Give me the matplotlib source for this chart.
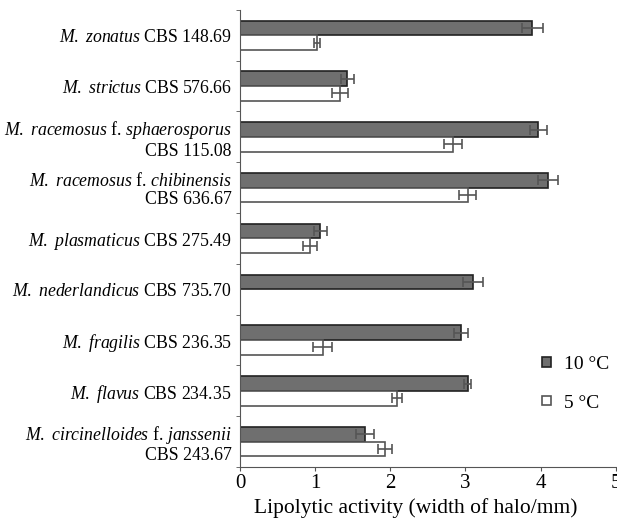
import numpy as np
import matplotlib.pyplot as plt

plt.rcParams["font.family"] = "Liberation Serif"
plt.rcParams["mathtext.fontset"] = "custom"
plt.rcParams["mathtext.rm"] = "Liberation Serif"
plt.rcParams["mathtext.it"] = "Liberation Serif:italic"

# Cepas (de arriba hacia abajo)
cepas = [
    r"$\mathit{M.\ zonatus}$ CBS 148.69",
    r"$\mathit{M.\ strictus}$ CBS 576.66",
    "$\\mathit{M.\\ racemosus}$ f. $\\mathit{sphaerosporus}$\nCBS 115.08",
    "$\\mathit{M.\\ racemosus}$ f. $\\mathit{chibinensis}$\nCBS 636.67",
    r"$\mathit{M.\ plasmaticus}$ CBS 275.49",
    r"$\mathit{M.\ nederlandicus}$ CBS 735.70",
    r"$\mathit{M.\ fragilis}$ CBS 236.35",
    r"$\mathit{M.\ flavus}$ CBS 234.35",
    "$\\mathit{M.\\ circinelloides}$ f. $\\mathit{janssenii}$\nCBS 243.67",
]

# Actividad lipolitica (mm) a 10 °C y 5 °C
act_10 = [3.89, 1.43, 3.97, 4.10, 1.07, 3.10, 2.94, 3.03, 1.66]
err_10 = [0.14, 0.09, 0.11, 0.13, 0.09, 0.13, 0.09, 0.05, 0.12]
act_5 = [1.03, 1.33, 2.83, 3.03, 0.93, 0.00, 1.10, 2.09, 1.93]
err_5 = [0.04, 0.11, 0.12, 0.11, 0.09, 0.00, 0.13, 0.07, 0.09]

n = len(cepas)
y = np.arange(n)
h = 0.29

fig = plt.figure(figsize=(6.17, 5.19), dpi=100)
ax = fig.add_axes([0.389, 0.100, 0.609, 0.881])

ek = dict(ecolor="#555555", elinewidth=1.2, capsize=3.5, capthick=1.2)
ax.barh(y - h / 2, act_10, height=h, color="#6f6f6f", edgecolor="#222222",
        linewidth=1.2, label="10 °C")
ax.errorbar(act_10, y - h / 2, xerr=err_10, fmt="none", **ek)
ax.barh(y + h / 2, act_5, height=h, color="white", edgecolor="#555555",
        linewidth=1.2, label="5 °C")
e5 = [e if v > 0 else np.nan for v, e in zip(act_5, err_5)]
ax.errorbar(act_5, y + h / 2, xerr=e5, fmt="none", **ek)

ax.set_ylim(n - 0.5, -0.5)
ax.set_xlim(0, 5)
ax.set_yticks(y)
ax.set_yticklabels(cepas, fontsize=12.8, linespacing=1.1)
ax.set_yticks(np.arange(n + 1) - 0.5, minor=True)
ax.tick_params(axis="y", which="major", length=0, pad=6)
ax.tick_params(axis="y", which="minor", length=3, color="#555555")
ax.set_xticks(range(6))
ax.tick_params(axis="x", labelsize=15, length=3, color="#555555", pad=2)
ax.set_xlabel("Lipolytic activity (width of halo/mm)", fontsize=15.5)
ax.xaxis.set_label_coords(0.468, -0.068)

for s in ["top", "right"]:
    ax.spines[s].set_visible(False)
for s in ["left", "bottom"]:
    ax.spines[s].set_color("#555555")

ax.legend(loc="center left", bbox_to_anchor=(0.803, 0.182), frameon=False,
          fontsize=14, handlelength=0.5, handleheight=0.38, labelspacing=1.1,
          handletextpad=0.65, borderpad=0, borderaxespad=0)

plt.savefig("out.png", dpi=100)
